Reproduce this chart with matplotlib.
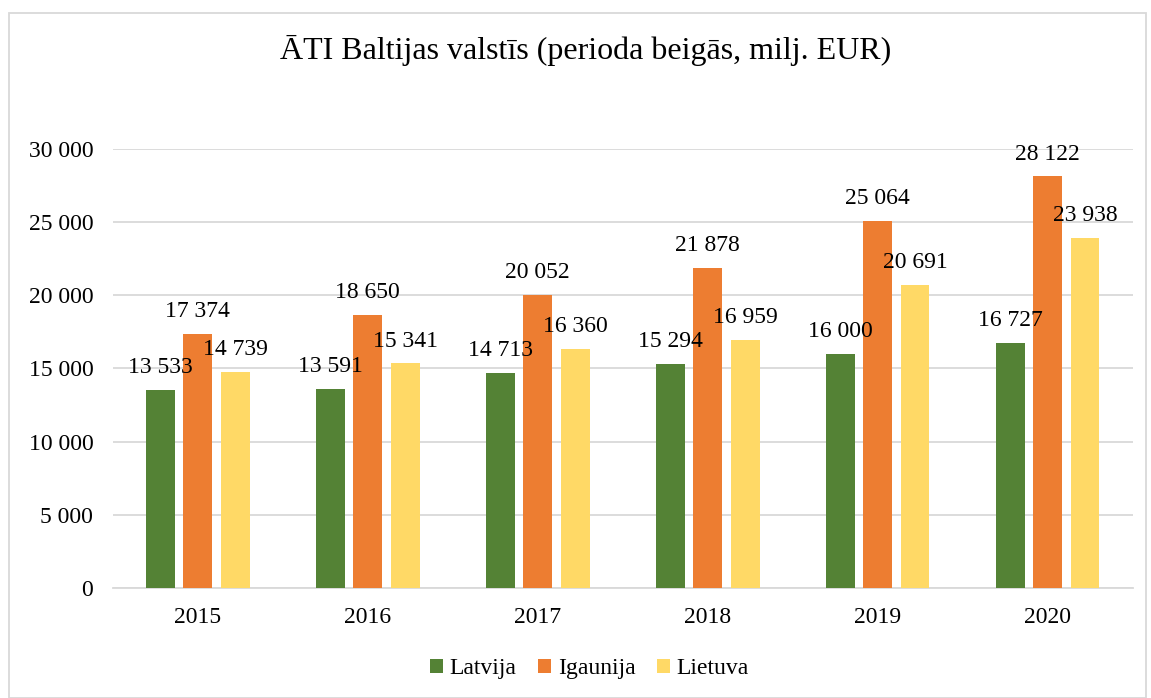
import matplotlib.pyplot as plt
import numpy as np
from matplotlib.patches import Rectangle

gadi = ["2015", "2016", "2017", "2018", "2019", "2020"]
latvija = [13533, 13591, 14713, 15294, 16000, 16727]
igaunija = [17374, 18650, 20052, 21878, 25064, 28122]
lietuva = [14739, 15341, 16360, 16959, 20691, 23938]

serijas = [("Latvija", latvija, "#548235"),
           ("Igaunija", igaunija, "#ED7D31"),
           ("Lietuva", lietuva, "#FFD966")]

plt.rcParams['font.family'] = ['Liberation Serif', 'DejaVu Serif']


def formatet(v):
    return f"{v:,.0f}".replace(",", " ")


fig = plt.figure(figsize=(11.51, 6.98), dpi=100)
ax = fig.add_axes([0.098, 0.1576, 0.886, 0.629])

x = np.arange(len(gadi))
platums = 0.17
solis = 0.22
for i, (nosaukums, vertibas, krasa) in enumerate(serijas):
    pos = x + (i - 1) * solis
    ax.bar(pos, vertibas, width=platums, color=krasa, label=nosaukums,
           zorder=3)
    for p, v in zip(pos, vertibas):
        ax.annotate(formatet(v), (p, v), xytext=(0, 8.5),
                    textcoords="offset points", ha="center", va="bottom",
                    fontsize=17, color="black", zorder=4,
                    annotation_clip=False)

ax.set_xlim(-0.5, len(gadi) - 0.5)
ax.set_ylim(0, 30000)
ax.set_yticks(range(0, 30001, 5000))
ax.set_yticklabels([formatet(t) for t in range(0, 30001, 5000)])
ax.set_xticks(x)
ax.set_xticklabels(gadi)
ax.tick_params(axis="both", length=0, labelsize=17)
ax.tick_params(axis="y", pad=14)
ax.tick_params(axis="x", pad=14)
ax.grid(axis="y", color="#d9d9d9", linewidth=1.3, zorder=0)
for s in ["top", "right", "left"]:
    ax.spines[s].set_visible(False)
ax.spines["bottom"].set_color("#d9d9d9")
ax.spines["bottom"].set_linewidth(1.3)

fig.suptitle("ĀTI Baltijas valstīs (perioda beigās, milj. EUR)",
             fontsize=23, x=0.509, y=0.928, va="center")

fig.legend(loc="center", bbox_to_anchor=(0.512, 0.042), ncol=3,
           frameon=False, fontsize=17, handlelength=0.55, handleheight=0.55,
           handletextpad=0.3, columnspacing=0.9)

fig.patches.append(Rectangle((0.008, 0.0), 0.988, 0.981,
                             transform=fig.transFigure, fill=False,
                             edgecolor="#d9d9d9", linewidth=1.3))

fig.savefig("out.png", dpi=100)
